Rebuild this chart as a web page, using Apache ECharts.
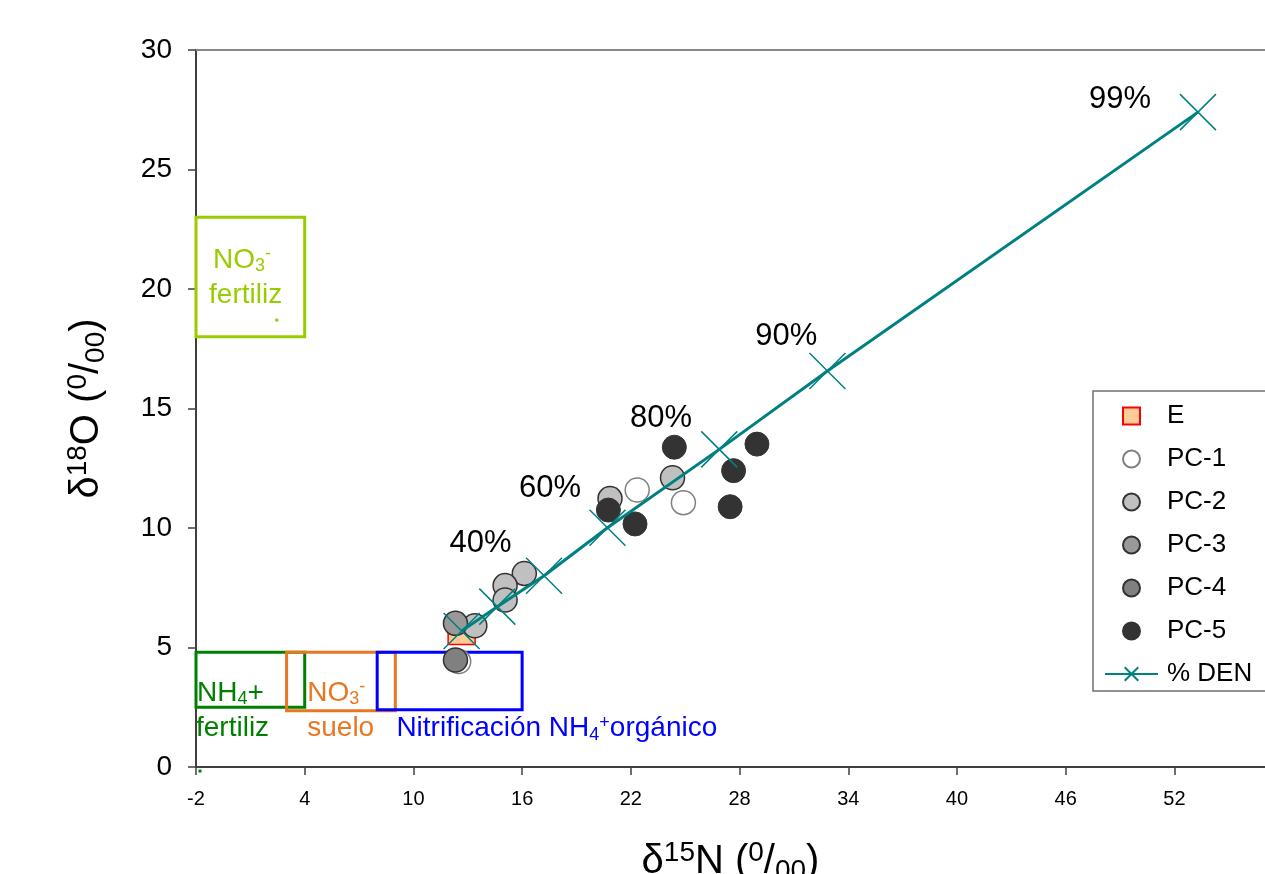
<!DOCTYPE html>
<html><head><meta charset="utf-8">
<script src="https://cdn.jsdelivr.net/npm/echarts@6/dist/echarts.min.js"></script>
<style>html,body{margin:0;padding:0;background:#fff;overflow:hidden}#c{width:1265px;height:874px}</style>
</head><body><div id="c"></div>
<script>
const FONT = "'Liberation Sans', Arial, Helvetica, sans-serif";

// ---------- data ----------
const pointsE   = [[12.66, 5.69]];
const pointsPC1 = [[22.35, 11.59], [24.9, 11.06], [12.5, 4.41]];
const pointsPC2 = [[24.3, 12.1], [20.85, 11.23], [16.12, 8.1], [15.06, 7.59], [15.06, 6.99], [13.39, 5.91]];
const pointsPC3 = [[12.32, 6.01]];
const pointsPC4 = [[12.32, 4.48]];
const pointsPC5 = [[24.4, 13.38], [28.96, 13.51], [27.67, 12.4], [27.48, 10.89], [20.76, 10.75], [22.23, 10.17]];
const denLine   = [[12.66, 5.69], [14.63, 6.71], [17.21, 8.0], [20.71, 10.01], [26.88, 13.29], [32.85, 16.57], [53.3, 27.4]];

const pctLabels   = ['40%', '60%', '80%', '90%', '99%'];
const pctLabelPos = [[13.71, 9.36], [17.54, 11.67], [23.66, 14.59], [30.58, 18.03], [49.0, 27.93]];

// source boxes: [x0, x1, y0, y1]
const boxKeys   = ['no3fert', 'nh4fert', 'no3soil', 'nitrif'];
const boxRanges = [[-2, 4, 18, 23], [-2, 4, 2.5, 4.8], [3, 9, 2.35, 4.8], [8, 16, 2.4, 4.8]];

const boxLabelText  = ['NO{sub|3}{sup|-}', 'fertiliz', 'NH{sub|4}+', 'fertiliz', 'NO{sub|3}{sup|-}', 'suelo', 'Nitrificación NH{sub|4}{sup|+}orgánico'];
const boxLabelPos   = [[0.54, 21.2], [0.74, 19.72], [-1.94, 3.08], [-2.0, 1.6], [4.14, 3.08], [4.14, 1.6], [9.06, 1.6]];
const boxLabelKey   = ['no3fert', 'no3fert', 'nh4fert', 'nh4fert', 'no3soil', 'no3soil', 'nitrif'];
const boxLabelAlign = ['center', 'center', 'left', 'left', 'left', 'left', 'left'];

const strayDots    = [[2.46, 18.70], [-1.78, -0.17]];
const strayDotKeys = ['no3fert', 'nh4fert'];

const legendNames = ['E', 'PC-1', 'PC-2', 'PC-3', 'PC-4', 'PC-5', '% DEN'];

const xMin = -2, xMax = 57, xStep = 6;
const yMin = 0, yMax = 30, yStep = 5;

// ---------- styles ----------
const boxColor = { no3fert: '#99CC00', nh4fert: '#008000', no3soil: '#E87722', nitrif: '#0000FF' };
const TEAL = '#008080';

const annRich = {
  sub: { fontSize: 18, verticalAlign: 'bottom', lineHeight: 30, padding: [12, 0, 0, 0] },
  sup: { fontSize: 18, verticalAlign: 'top', lineHeight: 30, padding: [0, 0, 12, 0] }
};
const nameRich = {
  b: { fontSize: 40, fontFamily: FONT, color: '#000', lineHeight: 46 },
  sup: { fontSize: 28, fontFamily: FONT, color: '#000', verticalAlign: 'top', lineHeight: 28, padding: [0, 0, 16, 0] },
  sub: { fontSize: 28, fontFamily: FONT, color: '#000', verticalAlign: 'bottom', lineHeight: 28, padding: [14, 0, 0, 0] }
};

const chart = echarts.init(document.getElementById('c'), null, { width: 1265, height: 874 });
const option = {
  animation: false,
  textStyle: { fontFamily: FONT },
  grid: { left: 196, width: 1069, top: 50, height: 717, containLabel: false, outerBoundsMode: 'none' },
  xAxis: [{
    type: 'value', min: xMin, max: xMax, interval: xStep,
    name: '{b|δ}{sup|15}{b|N (}{sup|0}{b|/}{sub|00}{b|)}',
    nameLocation: 'middle', nameGap: 72,
    nameTextStyle: { color: '#000', rich: nameRich },
    axisLine: { onZero: false, lineStyle: { color: '#404040', width: 2 } },
    axisTick: { show: true, length: 8, inside: false, lineStyle: { color: '#404040', width: 1.5 } },
    axisLabel: { fontSize: 20, color: '#000', margin: 22, showMaxLabel: false },
    splitLine: { show: false }
  }, {
    type: 'value', position: 'top', min: xMin, max: xMax,
    axisLine: { show: true, onZero: false, lineStyle: { color: '#888', width: 2 } },
    axisTick: { show: false }, axisLabel: { show: false }, splitLine: { show: false }
  }],
  yAxis: {
    type: 'value', min: yMin, max: yMax, interval: yStep,
    name: '{b|δ}{sup|18}{b|O (}{sup|0}{b|/}{sub|00}{b|)}',
    nameLocation: 'middle', nameGap: 86, nameRotate: 90,
    nameTextStyle: { color: '#000', rich: nameRich },
    axisLine: { show: true, onZero: false, lineStyle: { color: '#404040', width: 2 } },
    axisTick: { show: true, length: 8, lineStyle: { color: '#404040', width: 1.5 } },
    axisLabel: { fontSize: 28, color: '#000', margin: 24 },
    splitLine: { show: false }
  },
  legend: {
    orient: 'vertical', left: 1093, top: 391,
    padding: [11, 30, 3, 11],
    itemWidth: 53, itemHeight: 17, itemGap: 15,
    borderColor: '#707070', borderWidth: 1.5,
    textStyle: { fontSize: 26, color: '#000', lineHeight: 28, fontFamily: FONT, padding: [0, 0, 0, 4] },
    data: legendNames.map(n => n === 'E' ? { name: n, icon: 'path://M0,0L10,0L10,10L0,10Z' } : { name: n })
  },
  series: [
    {
      name: 'boxes', type: 'scatter', data: [], z: 1, silent: true,
      markArea: {
        silent: true,
        data: boxRanges.map((b, i) => [
          { coord: [b[0], b[2]], itemStyle: { color: 'rgba(0,0,0,0)', borderColor: boxColor[boxKeys[i]], borderWidth: 3, opacity: 1 } },
          { coord: [b[1], b[3]] }
        ])
      }
    },
    {
      name: 'E', type: 'scatter', symbol: 'rect', symbolSize: 27, z: 2,
      itemStyle: { color: '#FFCC99', borderColor: '#FF0000', borderWidth: 1.5, opacity: 1 },
      data: pointsE
    },
    {
      name: 'PC-1', type: 'scatter', symbol: 'circle', symbolSize: 24, z: 3,
      itemStyle: { color: '#FFFFFF', borderColor: '#808080', borderWidth: 1.5, opacity: 1 },
      data: pointsPC1
    },
    {
      name: 'PC-2', type: 'scatter', symbol: 'circle', symbolSize: 24, z: 3,
      itemStyle: { color: '#C0C0C0', borderColor: '#333333', borderWidth: 1.5, opacity: 1 },
      data: pointsPC2
    },
    {
      name: 'PC-3', type: 'scatter', symbol: 'circle', symbolSize: 24, z: 3,
      itemStyle: { color: '#999999', borderColor: '#333333', borderWidth: 1.5, opacity: 1 },
      data: pointsPC3
    },
    {
      name: 'PC-4', type: 'scatter', symbol: 'circle', symbolSize: 24, z: 3,
      itemStyle: { color: '#808080', borderColor: '#333333', borderWidth: 1.5, opacity: 1 },
      data: pointsPC4
    },
    {
      name: 'PC-5', type: 'scatter', symbol: 'circle', symbolSize: 24, z: 3,
      itemStyle: { color: '#333333', borderColor: '#333333', borderWidth: 1, opacity: 1 },
      data: pointsPC5
    },
    {
      name: '% DEN', type: 'line', z: 4,
      symbol: 'path://M0,0L10,10M10,0L0,10', symbolSize: 36, showSymbol: true,
      lineStyle: { color: TEAL, width: 3 },
      itemStyle: { color: 'rgba(0,0,0,0)', borderColor: TEAL, borderWidth: 1.5 },
      data: denLine
    },
    {
      name: 'pct', type: 'scatter', symbolSize: 0, z: 5, silent: true, clip: false,
      itemStyle: { opacity: 1 },
      label: { show: true, position: 'inside', fontSize: 31, color: '#000', fontFamily: FONT,
               formatter: p => pctLabels[p.dataIndex] },
      data: pctLabelPos
    },
    {
      name: 'boxText', type: 'scatter', symbolSize: 0, z: 5, silent: true, clip: false,
      itemStyle: { opacity: 1 },
      data: boxLabelPos.map((p, i) => ({
        value: p,
        label: {
          show: true, position: 'inside', align: boxLabelAlign[i], verticalAlign: 'middle',
          fontSize: 28, color: boxColor[boxLabelKey[i]], fontFamily: FONT,
          formatter: boxLabelText[i],
          rich: annRich
        }
      }))
    },
    {
      name: 'dots', type: 'scatter', symbol: 'rect', symbolSize: 3, z: 5, silent: true, clip: false,
      itemStyle: { opacity: 1 },
      data: strayDots.map((p, i) => ({ value: p, itemStyle: { color: boxColor[strayDotKeys[i]], opacity: 1 } }))
    }
  ]
};
chart.setOption(option);
</script>
</body></html>
